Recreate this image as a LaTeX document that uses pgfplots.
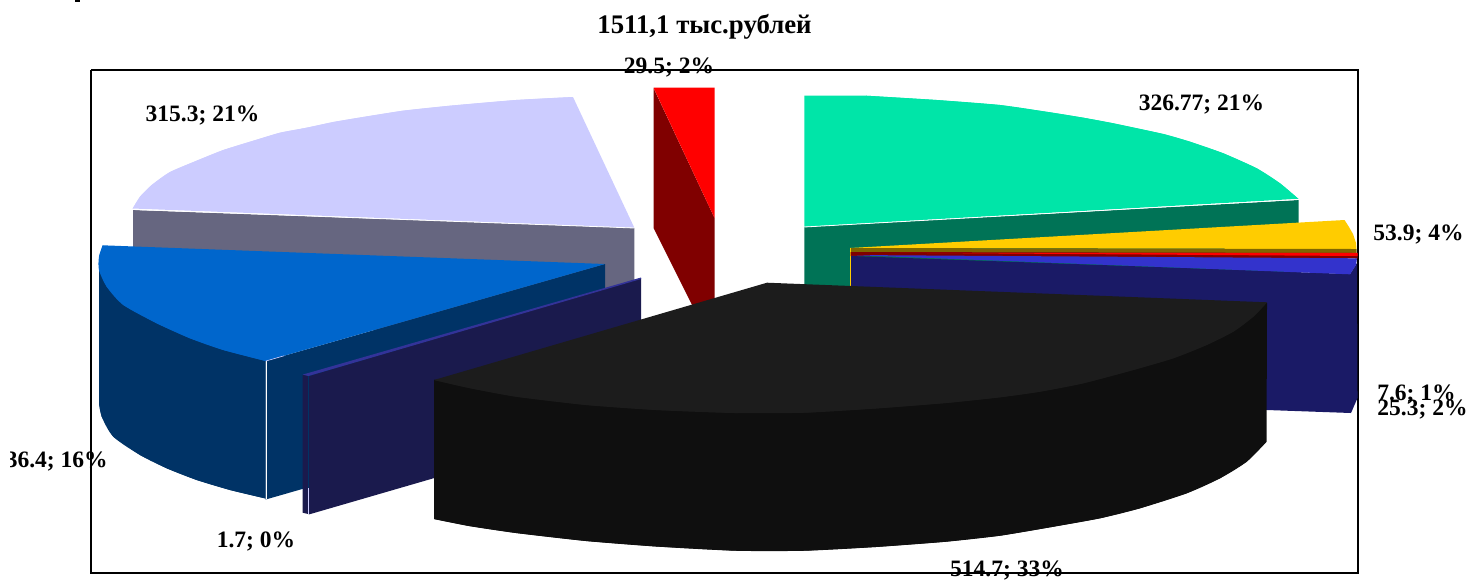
\documentclass[border=0pt]{standalone}
\usepackage{fontspec}
\setmainfont{Liberation Serif}
\usepackage{pgfplots}
\pgfplotsset{compat=1.18}
\definecolor{cMint}{HTML}{00E5A8}
\definecolor{cMintD}{HTML}{007356}
\definecolor{cLav}{HTML}{CCCCFF}
\definecolor{cLavD}{HTML}{666680}
\definecolor{cRed}{HTML}{FF0000}
\definecolor{cRedD}{HTML}{800000}
\definecolor{cGold}{HTML}{FFCC00}
\definecolor{cGoldD}{HTML}{806600}
\definecolor{cIndigo}{HTML}{3333CC}
\definecolor{cNavy}{HTML}{1A1A66}
\definecolor{cBlue}{HTML}{0066CC}
\definecolor{cBlueD}{HTML}{003366}
\definecolor{cPurple}{HTML}{333399}
\definecolor{cSlab}{HTML}{1A1A4D}
\definecolor{cBlkT}{HTML}{1C1C1C}
\definecolor{cBlkS}{HTML}{0F0F0F}
\tikzset{lab/.style={inner sep=0pt,font=\fontsize{11.75}{13}\selectfont\bfseries}}
\pgfplotsset{face/.style={fill=#1,draw=none,forget plot,mark=none},
  arc/.style={fill=#1,draw=none,forget plot,mark=none,smooth,tension=0.45}}
\begin{document}
\begin{tikzpicture}
\path[use as bounding box] (0,0) rectangle (735pt,290pt);
\begin{axis}[at={(0,0)},anchor=south west,scale only axis,width=735pt,height=290pt,
  xmin=0,xmax=1470,ymin=0,ymax=580,y dir=reverse,hide axis,clip=false]
% frame
\addplot[draw=black,line width=0.65pt,forget plot,mark=none] coordinates {(91,70)(1358,70)(1358,573)(91,573)(91,70)};
% tiny mark at top
\addplot[face=black] coordinates {(75,0)(80,0)(80,1.5)(75,1.5)};
% 315.3 slice
\addplot[face=cLavD] coordinates {(133,210)(634.3,228)(634.3,330)(133,330)};
\addplot[face=cLav] coordinates {(634.3,227.7)(573,97)(516,100)(450,105.7)(403,110.7)(360,117.5)(333.3,122)(306.7,127.7)(280,132.7)(253.3,140.7)(223.3,150)(198.3,160)(170,172)(151.7,185)(140,196.7)(132.7,208.5)};
\addplot[arc=cLav] coordinates {(573,97)(516,100)(450,105.7)(403,110.7)(360,117.5)(333.3,122)(306.7,127.7)(280,132.7)(253.3,140.7)(223.3,150)(198.3,160)(170,172)(151.7,185)(140,196.7)(132.7,208.5)};
\addplot[draw=white,line width=0.4pt,forget plot,mark=none] coordinates {(133,209.5)(634.3,228)};
% 29.5 slice
\addplot[face=cRedD] coordinates {(653.5,88)(714.5,218)(714.5,315)(697,315)(653.5,228)};
\addplot[face=cRed] coordinates {(653.5,87.7)(714.5,87.7)(714.5,218)};
% 326.77 slice
\addplot[face=cMintD] coordinates {(804.4,227)(1298.5,200)(1298.5,300)(804.4,320)};
\addplot[face=cMint] coordinates {(804.4,95.7)(866,95.7)(936.6,100)(1000,105)(1050,112.3)(1083.3,117.7)(1113.3,123.3)(1163.3,134)(1190,141.7)(1223.3,153.3)(1256.7,168.3)(1280,183.3)(1298.3,198.8)(804.4,226.7)};
\addplot[arc=cMint] coordinates {(866,95.7)(936.6,100)(1000,105)(1050,112.3)(1083.3,117.7)(1113.3,123.3)(1163.3,134)(1190,141.7)(1223.3,153.3)(1256.7,168.3)(1280,183.3)(1298.3,198.8)};
\addplot[draw=white,line width=0.4pt,forget plot,mark=none] coordinates {(804.4,227)(1298.5,199.5)};
% 53.9 slice
\addplot[face=cGold] coordinates {(850,248)(1344.5,220)(1349,227)(1353,234)(1356,243)(1356.5,249)};
\addplot[face=cGoldD] coordinates {(850,248)(1356.5,249)(1356.5,254)(850,252.5)};
\addplot[draw=cGold,line width=0.4pt,forget plot,mark=none] coordinates {(850.3,248)(850.3,290)};
% 7.6 slice
\addplot[face=cRedD] coordinates {(850.5,252)(1357.5,253)(1357.5,258.5)(850.5,256)};
\addplot[face=cRed] coordinates {(900,252.8)(1357.5,252.8)(1357.5,256)};
% 25.3 slice
\addplot[face=cNavy] coordinates {(851,256)(1350,274)(1357,263)(1357.5,398)(1351,413)(1267,410)(851,395)};
\addplot[face=cIndigo] coordinates {(851,255)(1357,258.3)(1356,265)(1350,274.3)};
% 236.4 slice
\addplot[face=cBlueD] coordinates {(99,256)(265.7,361)(265.7,498.5)(230,490)(196.7,480)(166.7,468.3)(140,455)(113.3,436.7)(101.7,416.7)(99,403.3)};
\addplot[arc=cBlueD] coordinates {(99,403.3)(101.7,416.7)(113.3,436.7)(140,455)(166.7,468.3)(196.7,480)(230,490)(265.7,498.5)};
\addplot[face=cBlueD] coordinates {(265.7,361)(605,264)(605,402)(265.7,499.5)};
\addplot[face=cBlue] coordinates {(102.7,245.3)(605,264)(265.7,361)(223.3,350)(190,338.3)(156.7,323.3)(123.3,305)(106.7,286.7)(99,270)(99,256.7)};
\addplot[arc=cBlue] coordinates {(102.7,245.3)(99,256.7)(99,270)(106.7,286.7)(123.3,305)(156.7,323.3)(190,338.3)(223.3,350)(265.7,361)};
\addplot[draw=white,line width=0.5pt,forget plot,mark=none] coordinates {(266.3,361)(266.3,499)};
\addplot[draw=cLav,line width=0.3pt,forget plot,mark=none] coordinates {(266,361)(284,355.8)};
% 1.7 slice
\addplot[face=cSlab] coordinates {(302.7,375)(309.5,376)(641,278)(641,418)(309.4,514.3)(302.7,512.7)};
\addplot[face=cPurple] coordinates {(302.7,374.6)(308.4,376)(641,279)(641,277.5)};
\addplot[draw=cBlueD,line width=0.4pt,forget plot,mark=none] coordinates {(308.6,376)(308.6,488)};
\addplot[draw=cLav,line width=0.5pt,forget plot,mark=none] coordinates {(308.6,488)(308.6,514)};
% 514.7 slice
\addplot[face=cBlkS] coordinates {(434,380)(1267,303)(1266.5,441.7)(1246.7,461.7)(1220,478.3)(1186.7,493.3)(1140,508.3)(1100,518.3)(1050,527.3)(1000,535.7)(946,541.7)(875.6,547)(805,550.7)(735,550.7)(656,546.5)(586,541)(516,533)(469,526)(434,519)};
\addplot[arc=cBlkS] coordinates {(1266.5,441.7)(1246.7,461.7)(1220,478.3)(1186.7,493.3)(1140,508.3)(1100,518.3)(1050,527.3)(1000,535.7)(946,541.7)(875.6,547)(805,550.7)(735,550.7)(656,546.5)(586,541)(516,533)(469,526)(434,519)};
\addplot[face=cBlkT] coordinates {(767,282.7)(1267,302.3)(1253.3,316.7)(1233.3,331.7)(1206.7,345)(1173.3,358.3)(1133.3,370)(1083.3,383.3)(1040,391.7)(1000,397.3)(946,403)(875.6,408.5)(805,412.7)(735,413)(656,410)(586,405)(516,396.7)(469,388)(434,380)};
\addplot[arc=cBlkT] coordinates {(1267,302.5)(1253.3,316.7)(1233.3,331.7)(1206.7,345)(1173.3,358.3)(1133.3,370)(1083.3,383.3)(1040,391.7)(1000,397.3)(946,403)(875.6,408.5)(805,412.7)(735,413)(656,410)(586,405)(516,396.7)(469,388)(434,380)};
% texts
\node[lab,font=\fontsize{13.4}{15}\selectfont\bfseries] at (axis cs:704.5,26.5) {1511,1 тыс.рублей};
\node[lab] at (axis cs:669,67.5) {29.5; 2\%};
\node[lab] at (axis cs:202.5,115.5) {315.3; 21\%};
\node[lab] at (axis cs:1201.5,104.5) {326.77; 21\%};
\node[lab] at (axis cs:1418.5,234.5) {53.9; 4\%};
\node[lab] at (axis cs:1416.5,394.5) {7.6; 1\%};
\node[lab] at (axis cs:1422.5,409.5) {25.3; 2\%};
\node[lab] at (axis cs:256,541.5) {1.7; 0\%};
\node[lab] at (axis cs:1007,570.5) {514.7; 33\%};
\begin{scope}
\clip (axis cs:10,440) rectangle (axis cs:130,485);
\node[lab,anchor=east] at (axis cs:108,461.5) {236.4; 16\%};
\end{scope}
\end{axis}
\end{tikzpicture}
\end{document}
